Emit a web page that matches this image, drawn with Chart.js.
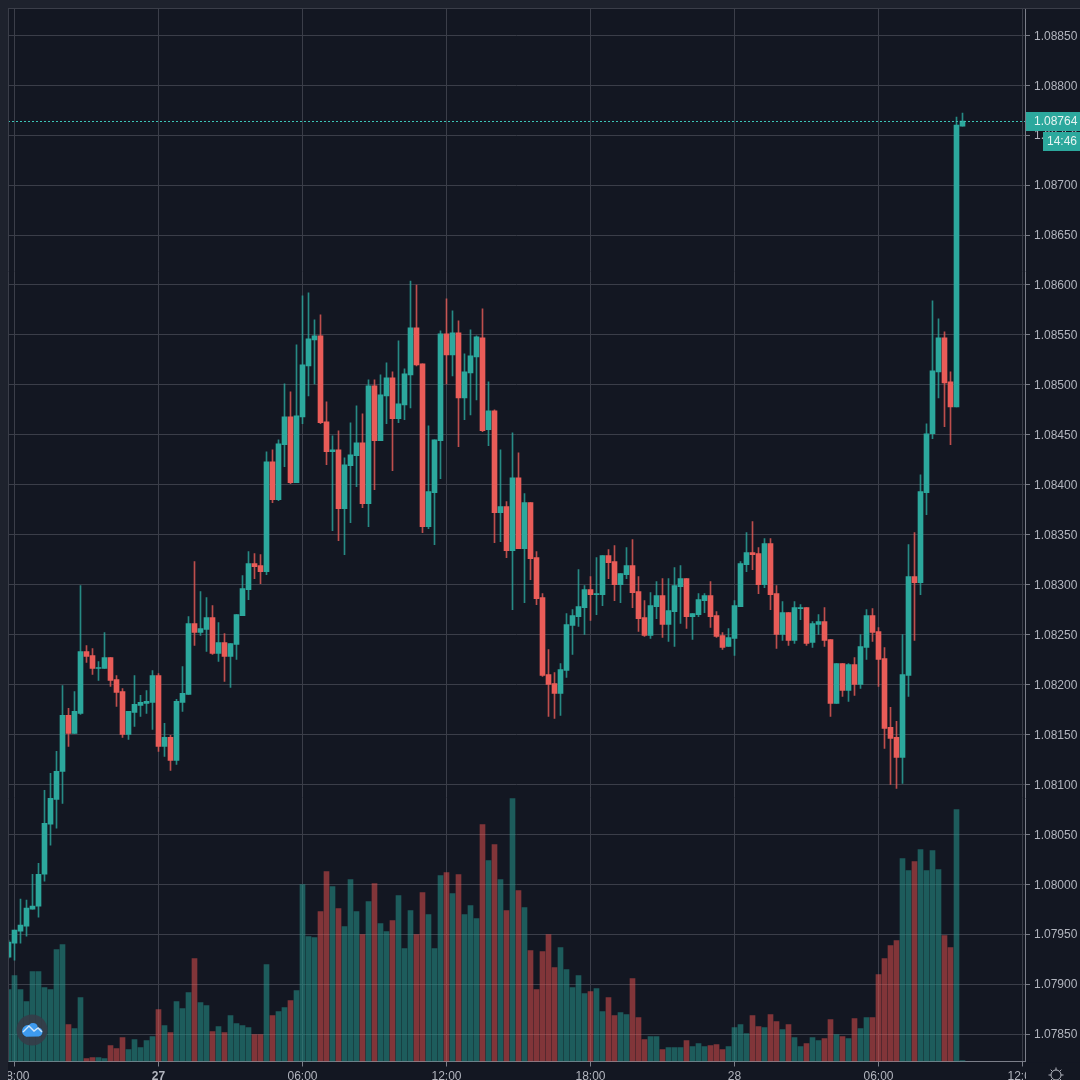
<!DOCTYPE html>
<html>
<head>
<meta charset="utf-8">
<title>EURUSD 15m</title>
<style>
  html, body { margin: 0; padding: 0; background: #131722; overflow: hidden; }
  canvas { display: block; }
</style>
<script src="https://cdn.jsdelivr.net/npm/chart.js@4/dist/chart.umd.js"></script>
</head>
<body>
<canvas id="chart" width="1080" height="1080"></canvas>
<script>
var opens = [
  1.07927,1.07941,1.07953,1.07958,1.07975,1.07978,1.08010,1.08060,1.08085,1.08113,
  1.08169,1.08151,1.08171,1.08233,1.08229,1.08216,1.08216,1.08227,1.08205,1.08193,
  1.08150,1.08172,1.08179,1.08181,1.08182,1.08209,1.08138,1.08147,1.08124,1.08182,
  1.08190,1.08261,1.08252,1.08255,1.08267,1.08231,1.08242,1.08228,1.08240,1.08269,
  1.08295,1.08321,1.08319,1.08313,1.08423,1.08385,1.08440,1.08468,1.08402,1.08468,
  1.08519,1.08545,1.08549,1.08463,1.08433,1.08435,1.08376,1.08419,1.08429,1.08442,
  1.08381,1.08499,1.08444,1.08489,1.08507,1.08466,1.08480,1.08510,1.08557,1.08521,
  1.08358,1.08392,1.08444,1.08551,1.08530,1.08552,1.08487,1.08512,1.08528,1.08547,
  1.08455,1.08474,1.08372,1.08378,1.08334,1.08407,1.08336,1.08382,1.08327,1.08287,
  1.08210,1.08201,1.08191,1.08214,1.08259,1.08268,1.08277,1.08295,1.08290,1.08290,
  1.08329,1.08323,1.08300,1.08310,1.08319,1.08293,1.08267,1.08249,1.08278,1.08289,
  1.08260,1.08273,1.08298,1.08306,1.08268,1.08270,1.08284,1.08289,1.08269,1.08249,
  1.08238,1.08246,1.08278,1.08320,1.08332,1.08331,1.08300,1.08341,1.08291,1.08250,
  1.08272,1.08244,1.08276,1.08277,1.08242,1.08260,1.08263,1.08245,1.08181,1.08221,
  1.08194,1.08220,1.08200,1.08237,1.08269,1.08253,1.08226,1.08157,1.08147,1.08127,
  1.08209,1.08308,1.08302,1.08392,1.08451,1.08513,1.08547,1.08503,1.08478,1.08759
];
var closes = [
  1.07942,1.07954,1.07959,1.07976,1.07978,1.08010,1.08061,1.08086,1.08113,1.08169,
  1.08151,1.08173,1.08233,1.08228,1.08216,1.08217,1.08227,1.08204,1.08192,1.08150,
  1.08173,1.08180,1.08182,1.08183,1.08209,1.08138,1.08147,1.08124,1.08183,1.08191,
  1.08261,1.08252,1.08256,1.08267,1.08231,1.08242,1.08228,1.08241,1.08270,1.08296,
  1.08321,1.08318,1.08313,1.08423,1.08385,1.08441,1.08468,1.08402,1.08469,1.08520,
  1.08546,1.08549,1.08462,1.08433,1.08435,1.08376,1.08420,1.08430,1.08442,1.08381,
  1.08499,1.08444,1.08490,1.08507,1.08466,1.08481,1.08511,1.08557,1.08520,1.08358,
  1.08393,1.08445,1.08551,1.08530,1.08552,1.08487,1.08513,1.08529,1.08548,1.08454,
  1.08474,1.08372,1.08378,1.08334,1.08407,1.08336,1.08382,1.08326,1.08286,1.08209,
  1.08200,1.08191,1.08215,1.08260,1.08269,1.08278,1.08295,1.08290,1.08291,1.08329,
  1.08322,1.08300,1.08311,1.08319,1.08292,1.08266,1.08249,1.08279,1.08289,1.08260,
  1.08274,1.08299,1.08306,1.08268,1.08271,1.08285,1.08289,1.08268,1.08248,1.08237,
  1.08247,1.08279,1.08321,1.08332,1.08330,1.08300,1.08341,1.08290,1.08250,1.08272,
  1.08244,1.08277,1.08277,1.08241,1.08261,1.08263,1.08244,1.08181,1.08221,1.08194,
  1.08220,1.08200,1.08238,1.08269,1.08252,1.08225,1.08156,1.08146,1.08127,1.08210,
  1.08308,1.08302,1.08393,1.08451,1.08514,1.08547,1.08502,1.08478,1.08760,1.08764
];
var highs = [
  1.07944,1.07954,1.07985,1.07984,1.08010,1.08021,1.08094,1.08111,1.08133,1.08199,
  1.08176,1.08193,1.08299,1.08239,1.08236,1.08223,1.08252,1.08227,1.08209,1.08196,
  1.08173,1.08209,1.08189,1.08194,1.08214,1.08211,1.08161,1.08149,1.08185,1.08218,
  1.08268,1.08323,1.08293,1.08287,1.08279,1.08262,1.08251,1.08241,1.08270,1.08309,
  1.08333,1.08331,1.08330,1.08433,1.08435,1.08445,1.08501,1.08493,1.08540,1.08589,
  1.08592,1.08565,1.08570,1.08483,1.08449,1.08454,1.08427,1.08462,1.08479,1.08471,
  1.08505,1.08505,1.08510,1.08522,1.08513,1.08544,1.08516,1.08604,1.08600,1.08521,
  1.08459,1.08445,1.08554,1.08586,1.08574,1.08564,1.08531,1.08555,1.08549,1.08576,
  1.08503,1.08475,1.08435,1.08383,1.08452,1.08432,1.08391,1.08382,1.08333,1.08291,
  1.08235,1.08212,1.08221,1.08271,1.08275,1.08315,1.08299,1.08308,1.08327,1.08329,
  1.08335,1.08339,1.08311,1.08337,1.08345,1.08308,1.08284,1.08292,1.08303,1.08306,
  1.08306,1.08317,1.08319,1.08306,1.08271,1.08291,1.08291,1.08303,1.08273,1.08252,
  1.08256,1.08284,1.08323,1.08352,1.08363,1.08337,1.08346,1.08346,1.08299,1.08283,
  1.08272,1.08283,1.08280,1.08277,1.08263,1.08270,1.08277,1.08245,1.08221,1.08221,
  1.08221,1.08227,1.08250,1.08275,1.08276,1.08257,1.08237,1.08177,1.08163,1.08250,
  1.08340,1.08352,1.08410,1.08461,1.08584,1.08566,1.08553,1.08513,1.08768,1.08772
];
var lows = [
  1.07926,1.07924,1.07941,1.07948,1.07975,1.07967,1.08003,1.08039,1.08056,1.08081,
  1.08138,1.08151,1.08170,1.08222,1.08210,1.08204,1.08216,1.08198,1.08178,1.08147,
  1.08145,1.08158,1.08168,1.08171,1.08155,1.08133,1.08128,1.08114,1.08120,1.08173,
  1.08190,1.08239,1.08249,1.08233,1.08230,1.08223,1.08203,1.08197,1.08225,1.08269,
  1.08285,1.08306,1.08301,1.08310,1.08382,1.08384,1.08418,1.08401,1.08402,1.08461,
  1.08489,1.08501,1.08461,1.08420,1.08354,1.08344,1.08330,1.08362,1.08398,1.08377,
  1.08358,1.08395,1.08444,1.08461,1.08414,1.08462,1.08465,1.08477,1.08519,1.08352,
  1.08356,1.08340,1.08406,1.08501,1.08509,1.08438,1.08465,1.08470,1.08485,1.08453,
  1.08439,1.08342,1.08343,1.08327,1.08275,1.08336,1.08282,1.08305,1.08280,1.08208,
  1.08168,1.08166,1.08169,1.08207,1.08230,1.08258,1.08250,1.08264,1.08270,1.08279,
  1.08306,1.08284,1.08282,1.08306,1.08277,1.08253,1.08248,1.08246,1.08266,1.08247,
  1.08243,1.08238,1.08261,1.08256,1.08245,1.08268,1.08272,1.08257,1.08247,1.08235,
  1.08238,1.08229,1.08278,1.08313,1.08315,1.08291,1.08297,1.08275,1.08236,1.08244,
  1.08239,1.08241,1.08265,1.08239,1.08237,1.08250,1.08238,1.08168,1.08181,1.08188,
  1.08183,1.08189,1.08196,1.08225,1.08243,1.08198,1.08136,1.08100,1.08096,1.08101,
  1.08188,1.08244,1.08290,1.08370,1.08446,1.08487,1.08458,1.08440,1.08478,1.08759
];
var volumes = [
  72,86,72,60,90,90,74,72,112,117,
  37,33,64,3,4,4,3,16,13,24,
  12,22,14,21,25,52,36,29,60,53,
  69,103,59,56,30,35,29,46,38,36,
  34,27,27,97,46,50,54,61,71,177,
  125,124,150,190,175,153,135,182,150,127,
  160,178,138,130,141,166,113,151,127,169,
  147,113,186,189,168,187,147,156,143,237,
  201,217,182,151,263,171,154,111,72,110,
  127,94,114,92,74,86,68,70,73,50,
  64,46,49,47,83,44,22,25,25,12,
  14,14,14,21,15,18,15,16,17,12,
  15,34,37,28,46,35,34,47,40,32,
  37,24,15,18,24,21,23,42,27,25,
  23,43,33,44,44,87,103,116,121,203,
  191,200,212,191,211,192,126,114,252,1
];
var tickSlots = [1, 25, 49, 73, 97, 121, 145, 169];
var tickLabels = ["18:00", "27", "06:00", "12:00", "18:00", "28", "06:00", "12:00"];
var priceTicks = [
  1.0785,1.079,1.0795,1.08,1.0805,1.081,1.0815,1.082,1.0825,1.083,
  1.0835,1.084,1.0845,1.085,1.0855,1.086,1.0865,1.087,1.0875,1.088,1.0885
];
var lastPriceLabel = "1.08764";
var countdownLabel = "14:46";

var upColor = "#2ca89d";
var downColor = "#e95c58";
var upWick = "rgba(44,168,157,0.8)";
var downWick = "rgba(233,92,88,0.8)";
var upVolume = "rgba(38,150,140,0.55)";
var downVolume = "rgba(239,83,80,0.5)";
var bgColor = "#131722";
var stripColor = "#1e222d";
var gridColor = "#3b3e49";
var axisColor = "#7b7e89";
var textColor = "#b2b5be";

var slots = opens.map(function(v, i) { return i; });
function isUp(i) { return closes[i] >= opens[i]; }

var volumeData = slots.map(function(i) { return { x: i, y: volumes[i] }; });
var wickData = slots.map(function(i) { return { x: i, y: [lows[i], highs[i]] }; });
var bodyData = slots.map(function(i) { return { x: i, y: [opens[i], closes[i]] }; });

// covers the clipped labels and adds the bits around the plot
var overlay = {
  id: "overlay",
  afterDraw: function(chart) {
    var c = chart.ctx;
    var area = chart.chartArea;
    var yPos = chart.scales.y.getPixelForValue(closes[closes.length - 1]);

    // last price line
    c.save();
    c.strokeStyle = "#3cc4b6";
    c.lineWidth = 1;
    c.setLineDash([2, 2]);
    c.beginPath();
    c.moveTo(area.left, Math.floor(yPos) + 0.5);
    c.lineTo(area.right, Math.floor(yPos) + 0.5);
    c.stroke();
    c.restore();

    // left and top strips
    c.fillStyle = stripColor;
    c.fillRect(0, 0, 8, 1080);
    c.fillRect(0, 0, 1080, 8);
    c.strokeStyle = gridColor;
    c.lineWidth = 1;
    c.beginPath();
    c.moveTo(8.5, 8);
    c.lineTo(8.5, area.bottom);
    c.moveTo(8, 8.5);
    c.lineTo(1080, 8.5);
    c.stroke();

    // corner under the price axis, cuts the last time label
    c.fillStyle = bgColor;
    c.fillRect(area.right + 1, area.bottom + 1, 60, 20);

    // price badges
    c.fillStyle = upColor;
    c.fillRect(1026, 112, 54, 19);
    c.fillRect(1043, 132, 37, 19);
    c.fillStyle = "#e6f4f2";
    c.font = "12px 'Liberation Sans'";
    c.textAlign = "left";
    c.textBaseline = "middle";
    c.fillText(lastPriceLabel, 1034, 122);
    c.fillText(countdownLabel, 1047, 142);

    // settings gear
    c.strokeStyle = textColor;
    c.lineWidth = 1;
    c.beginPath();
    c.arc(1056, 1075, 5, 0, Math.PI * 2);
    for (var a = 0; a < 8; a++) {
      var ang = a * Math.PI / 4;
      c.moveTo(1056 + Math.cos(ang) * 5, 1075 + Math.sin(ang) * 5);
      c.lineTo(1056 + Math.cos(ang) * 7.5, 1075 + Math.sin(ang) * 7.5);
    }
    c.stroke();

    // logo
    c.fillStyle = "rgba(55,59,72,0.85)";
    c.beginPath();
    c.arc(32, 1030, 15.5, 0, Math.PI * 2);
    c.fill();
    c.fillStyle = "#3d9bf0";
    c.beginPath();
    c.arc(28, 1031, 6, Math.PI * 0.6, Math.PI * 1.6);
    c.arc(33, 1028, 5, Math.PI, Math.PI * 1.9);
    c.arc(38, 1032, 4.5, Math.PI * 1.4, Math.PI * 0.5);
    c.closePath();
    c.fill();
    c.strokeStyle = "#cfe6fb";
    c.lineWidth = 1.4;
    c.beginPath();
    c.moveTo(23, 1032);
    c.lineTo(29, 1026);
    c.lineTo(34, 1031);
    c.lineTo(38, 1028);
    c.lineTo(42, 1032);
    c.stroke();
  }
};

var chart = new Chart(document.getElementById("chart"), {
  type: "bar",
  data: {
    datasets: [
      {
        label: "Volume",
        yAxisID: "y2",
        data: volumeData,
        order: 3,
        barThickness: 5,
        backgroundColor: slots.map(function(i) { return isUp(i) ? upVolume : downVolume; })
      },
      {
        label: "Wick",
        data: wickData,
        order: 2,
        barThickness: 1,
        backgroundColor: slots.map(function(i) { return isUp(i) ? upWick : downWick; })
      },
      {
        label: "Body",
        data: bodyData,
        order: 1,
        barThickness: 5,
        backgroundColor: slots.map(function(i) { return isUp(i) ? upColor : downColor; })
      }
    ]
  },
  options: {
    responsive: false,
    animation: false,
    devicePixelRatio: 1,
    layout: { padding: { left: 8, top: 8, right: 0, bottom: 0 } },
    plugins: { legend: { display: false }, tooltip: { enabled: false } },
    datasets: { bar: { grouped: false, borderSkipped: false, borderWidth: 0 } },
    scales: {
      x: {
        type: "linear",
        offset: false,
        min: -1 / 12,
        max: 169.5 - 1 / 12,
        afterBuildTicks: function(scale) {
          scale.ticks = tickSlots.map(function(v) { return { value: v }; });
        },
        afterFit: function(scale) {
          scale.height = 18.5;
          scale.paddingLeft = 0;
          scale.paddingRight = 0;
        },
        grid: { offset: false, color: gridColor, tickColor: axisColor, tickLength: 5 },
        border: { color: axisColor },
        ticks: {
          autoSkip: false,
          maxRotation: 0,
          padding: 3,
          color: textColor,
          font: function(ctx) {
            return {
              family: "'Liberation Sans'",
              size: 12,
              weight: ctx.tick && ctx.tick.label === "27" ? "bold" : "normal"
            };
          },
          callback: function(value) {
            return tickLabels[tickSlots.indexOf(value)];
          }
        }
      },
      y: {
        position: "right",
        min: 1.078225,
        max: 1.088773,
        afterBuildTicks: function(scale) {
          scale.ticks = priceTicks.map(function(v) { return { value: v }; });
        },
        afterFit: function(scale) {
          scale.width = 55;
          scale.paddingTop = 0;
          scale.paddingBottom = 0;
        },
        grid: { color: gridColor, tickColor: axisColor, tickLength: 5 },
        border: { color: axisColor },
        ticks: {
          padding: 4,
          labelOffset: 1,
          color: textColor,
          font: { family: "'Liberation Sans'", size: 12 },
          callback: function(value) { return value.toFixed(5); }
        }
      },
      y2: {
        display: false,
        min: 0,
        max: 1053.5
      }
    }
  },
  plugins: [overlay]
});
</script>
</body>
</html>
